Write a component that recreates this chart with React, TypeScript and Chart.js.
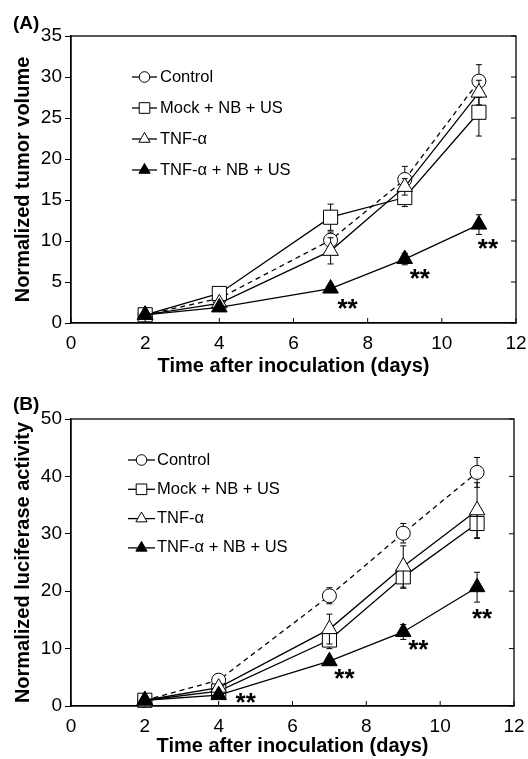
import React, { useEffect, useRef } from "react";
import { Chart, registerables } from "chart.js";

Chart.register(...registerables);

// ---------- data ----------
const DAYS = [2, 4, 7, 9, 11];
const SERIES_NAMES = ["Control", "Mock + NB + US", "TNF-α", "TNF-α + NB + US"];

const X_MIN = 0;
const X_MAX = 12;
const X_STEP = 2;
const X_TITLE = "Time after inoculation (days)";

// Panel A: normalized tumor volume
const A_CONTROL = [1, 3.0, 10.1, 17.5, 29.5];
const A_MOCK = [1, 3.6, 12.9, 15.3, 25.7];
const A_TNF = [1, 2.4, 8.8, 16.6, 28.1];
const A_TNF_NB = [1, 1.9, 4.2, 7.8, 12.0];
const A_CONTROL_ERR = [0.1, 0.3, 1.0, 1.6, 2.0];
const A_MOCK_ERR = [0.1, 0.3, 1.6, 1.1, 2.9];
const A_TNF_ERR = [0.1, 0.4, 1.6, 1.0, 1.5];
const A_TNF_NB_ERR = [0.1, 0.2, 0.3, 0.7, 1.2];
const A_Y_MAX = 35;
const A_Y_STEP = 5;
const A_Y_TITLE = "Normalized tumor volume";
const A_STAR_POINTS = [2, 3, 4];

// Panel B: normalized luciferase activity
const B_CONTROL = [1, 4.5, 19.2, 30.1, 40.7];
const B_MOCK = [1, 2.6, 11.5, 22.5, 31.8];
const B_TNF = [1, 3.2, 13.4, 24.3, 34.1];
const B_TNF_NB = [1, 1.9, 7.8, 12.9, 20.7];
const B_CONTROL_ERR = [0.2, 0.5, 1.4, 1.7, 2.6];
const B_MOCK_ERR = [0.2, 0.3, 1.5, 2.0, 2.6];
const B_TNF_ERR = [0.2, 0.4, 2.6, 3.6, 4.8];
const B_TNF_NB_ERR = [0.1, 0.3, 0.6, 1.3, 2.6];
const B_Y_MAX = 50;
const B_Y_STEP = 10;
const B_Y_TITLE = "Normalized luciferase activity";
const B_STAR_POINTS = [1, 2, 3, 4];

const STAR_TEXT = "**";

// ---------- styles ----------
const FONT = "Arial, 'Liberation Sans', sans-serif";
const MARKERS = [
  { shape: "circle", radius: 7, fill: "#ffffff", legendR: 5.3, dash: [5, 4] },
  { shape: "rect", radius: 10, fill: "#ffffff", legendR: 5.3, dash: [] },
  { shape: "triangle", radius: 9, fill: "#ffffff", legendR: 6.5, dash: [] },
  { shape: "triangle", radius: 9, fill: "#000000", legendR: 6.5, dash: [] },
];

type Panel = {
  label: string;
  series: number[][];
  errors: number[][];
  yMax: number;
  yStep: number;
  yTitle: string;
  stars: number[];
  height: number;
  padTop: number;
  padRight: number;
  xAxisH: number;
  xTitlePad: number;
  legend: { x0: number; x1: number; tx: number; y0: number; dy: number };
  starOffsets: number[][];
  labelPos: number[];
};

const PANELS: Panel[] = [
  {
    label: "(A)",
    series: [A_CONTROL, A_MOCK, A_TNF, A_TNF_NB],
    errors: [A_CONTROL_ERR, A_MOCK_ERR, A_TNF_ERR, A_TNF_NB_ERR],
    yMax: A_Y_MAX,
    yStep: A_Y_STEP,
    yTitle: A_Y_TITLE,
    stars: A_STAR_POINTS,
    height: 380,
    padTop: 36,
    padRight: 12,
    xAxisH: 57,
    xTitlePad: 2,
    legend: { x0: 132, x1: 157, tx: 160, y0: 77, dy: 31 },
    starOffsets: [
      [17, 14],
      [15, 13],
      [9, 18],
    ],
    labelPos: [13, 24],
  },
  {
    label: "(B)",
    series: [B_CONTROL, B_MOCK, B_TNF, B_TNF_NB],
    errors: [B_CONTROL_ERR, B_MOCK_ERR, B_TNF_ERR, B_TNF_NB_ERR],
    yMax: B_Y_MAX,
    yStep: B_Y_STEP,
    yTitle: B_Y_TITLE,
    stars: B_STAR_POINTS,
    height: 379,
    padTop: 39,
    padRight: 14,
    xAxisH: 53,
    xTitlePad: 1,
    legend: { x0: 128, x1: 155, tx: 157, y0: 80, dy: 29.3 },
    starOffsets: [
      [27, 1],
      [15, 11],
      [15, 11],
      [5, 25],
    ],
    labelPos: [13, 25],
  },
];

function drawMarker(ctx: CanvasRenderingContext2D, shape: string, x: number, y: number, r: number, fill: string) {
  ctx.beginPath();
  if (shape === "circle") {
    ctx.arc(x, y, r, 0, Math.PI * 2);
  } else if (shape === "rect") {
    ctx.rect(x - r, y - r, 2 * r, 2 * r);
  } else {
    ctx.moveTo(x, y - r);
    ctx.lineTo(x + r * 0.866, y + r * 0.5);
    ctx.lineTo(x - r * 0.866, y + r * 0.5);
    ctx.closePath();
  }
  ctx.fillStyle = fill;
  ctx.fill();
  ctx.stroke();
}

function makeExtras(p: Panel) {
  return {
    id: "panelExtras" + p.label,
    beforeDatasetDraw(chart: any, args: any) {
      const ds = chart.data.datasets[args.index];
      const errs: number[] = ds.errors;
      if (!errs) return;
      const { ctx } = chart;
      const xs = chart.scales.x;
      const ys = chart.scales.y;
      ctx.save();
      ctx.strokeStyle = "#000";
      ctx.lineWidth = 1;
      ctx.setLineDash([]);
      ds.data.forEach((pt: any, j: number) => {
        const e = errs[j];
        if (!e) return;
        const x = xs.getPixelForValue(pt.x);
        const yT = ys.getPixelForValue(pt.y + e);
        const yB = ys.getPixelForValue(pt.y - e);
        ctx.beginPath();
        ctx.moveTo(x, yT);
        ctx.lineTo(x, yB);
        ctx.moveTo(x - 3, yT);
        ctx.lineTo(x + 3, yT);
        ctx.moveTo(x - 3, yB);
        ctx.lineTo(x + 3, yB);
        ctx.stroke();
      });
      ctx.restore();
    },
    afterDraw(chart: any) {
      const { ctx, chartArea } = chart;
      const xs = chart.scales.x;
      const ys = chart.scales.y;
      ctx.save();
      ctx.strokeStyle = "#000";
      ctx.setLineDash([]);
      // frame
      ctx.lineWidth = 1.3;
      ctx.strokeRect(chartArea.left, chartArea.top, chartArea.right - chartArea.left, chartArea.bottom - chartArea.top);
      // inward ticks
      ctx.lineWidth = 1;
      ctx.beginPath();
      xs.ticks.forEach((t: any) => {
        const x = xs.getPixelForValue(t.value);
        ctx.moveTo(x, chartArea.bottom);
        ctx.lineTo(x, chartArea.bottom - 5);
      });
      ys.ticks.forEach((t: any) => {
        const y = ys.getPixelForValue(t.value);
        ctx.moveTo(chartArea.right, y);
        ctx.lineTo(chartArea.right - 5, y);
      });
      ctx.stroke();

      // legend
      const L = p.legend;
      ctx.font = "16.5px " + FONT;
      ctx.textAlign = "left";
      ctx.textBaseline = "middle";
      SERIES_NAMES.forEach((name, i) => {
        const y = L.y0 + i * L.dy;
        const m = MARKERS[i];
        ctx.lineWidth = 1.3;
        ctx.beginPath();
        ctx.moveTo(L.x0, y);
        ctx.lineTo(L.x1, y);
        ctx.stroke();
        ctx.lineWidth = 1;
        drawMarker(ctx, m.shape, (L.x0 + L.x1) / 2, y, m.legendR, m.fill);
        ctx.fillStyle = "#000";
        ctx.fillText(name, L.tx, y);
      });

      // significance stars
      const last = p.series.length - 1;
      ctx.font = "bold 26px " + FONT;
      ctx.textAlign = "center";
      ctx.textBaseline = "alphabetic";
      ctx.fillStyle = "#000";
      p.stars.forEach((j, k) => {
        const x = xs.getPixelForValue(DAYS[j]) + p.starOffsets[k][0];
        const y = ys.getPixelForValue(p.series[last][j]) + p.starOffsets[k][1];
        ctx.fillText(STAR_TEXT, x, y + 26 * 0.56);
      });

      // panel label
      ctx.font = "bold 19px " + FONT;
      ctx.textAlign = "left";
      ctx.textBaseline = "middle";
      ctx.fillText(p.label, p.labelPos[0], p.labelPos[1]);
      ctx.restore();
    },
  };
}

function PanelChart({ p }: { p: Panel }) {
  const ref = useRef<HTMLCanvasElement | null>(null);
  useEffect(() => {
    if (!ref.current) return;
    const datasets = p.series.map((s, i) => ({
      label: SERIES_NAMES[i],
      data: DAYS.map((d, j) => ({ x: d, y: s[j] })),
      errors: p.errors[i],
      order: p.series.length - 1 - i,
      borderColor: "#000",
      borderWidth: 1.3,
      borderDash: MARKERS[i].dash,
      pointStyle: MARKERS[i].shape,
      pointRadius: MARKERS[i].radius,
      pointHoverRadius: MARKERS[i].radius,
      pointBackgroundColor: MARKERS[i].fill,
      pointBorderColor: "#000",
      pointBorderWidth: 1,
      tension: 0,
      fill: false,
      clip: false,
    }));
    const chart = new Chart(ref.current, {
      type: "line",
      data: { datasets } as any,
      options: {
        animation: false,
        responsive: false,
        maintainAspectRatio: false,
        layout: { padding: { top: p.padTop, right: p.padRight, bottom: 0, left: 0 } },
        plugins: { legend: { display: false }, tooltip: { enabled: false } },
        scales: {
          x: {
            type: "linear",
            min: X_MIN,
            max: X_MAX,
            ticks: { stepSize: X_STEP, color: "#000", font: { size: 19, family: FONT }, padding: 9, maxRotation: 0 },
            grid: { drawOnChartArea: false, drawTicks: false, color: "#000" },
            border: { display: true, color: "#000", width: 1.3 },
            title: {
              display: true,
              text: X_TITLE,
              color: "#000",
              font: { size: 20, weight: "bold", family: FONT },
              padding: { top: 0, bottom: p.xTitlePad },
            },
            afterFit: (s: any) => {
              s.height = p.xAxisH;
              s.paddingLeft = 0;
              s.paddingRight = 0;
            },
          },
          y: {
            type: "linear",
            min: 0,
            max: p.yMax,
            ticks: { stepSize: p.yStep, color: "#000", font: { size: 19, family: FONT }, padding: 3 },
            grid: { drawOnChartArea: false, drawTicks: true, tickLength: 6, color: "#000", lineWidth: 1 },
            border: { display: true, color: "#000", width: 1.3 },
            title: {
              display: true,
              text: p.yTitle,
              color: "#000",
              font: { size: 20, weight: "bold", family: FONT },
              padding: { top: 11, bottom: 0 },
            },
            afterFit: (s: any) => {
              s.width = 71;
              s.paddingTop = 0;
              s.paddingBottom = 0;
            },
          },
        },
      } as any,
      plugins: [makeExtras(p) as any],
    });
    return () => chart.destroy();
  }, [p]);
  return <canvas ref={ref} width={528} height={p.height} style={{ display: "block" }} />;
}

export default function App() {
  return (
    <div style={{ position: "absolute", left: 0, top: 0, width: 528, height: 759, background: "#fff", overflow: "hidden" }}>
      {PANELS.map((p) => (
        <PanelChart key={p.label} p={p} />
      ))}
    </div>
  );
}
